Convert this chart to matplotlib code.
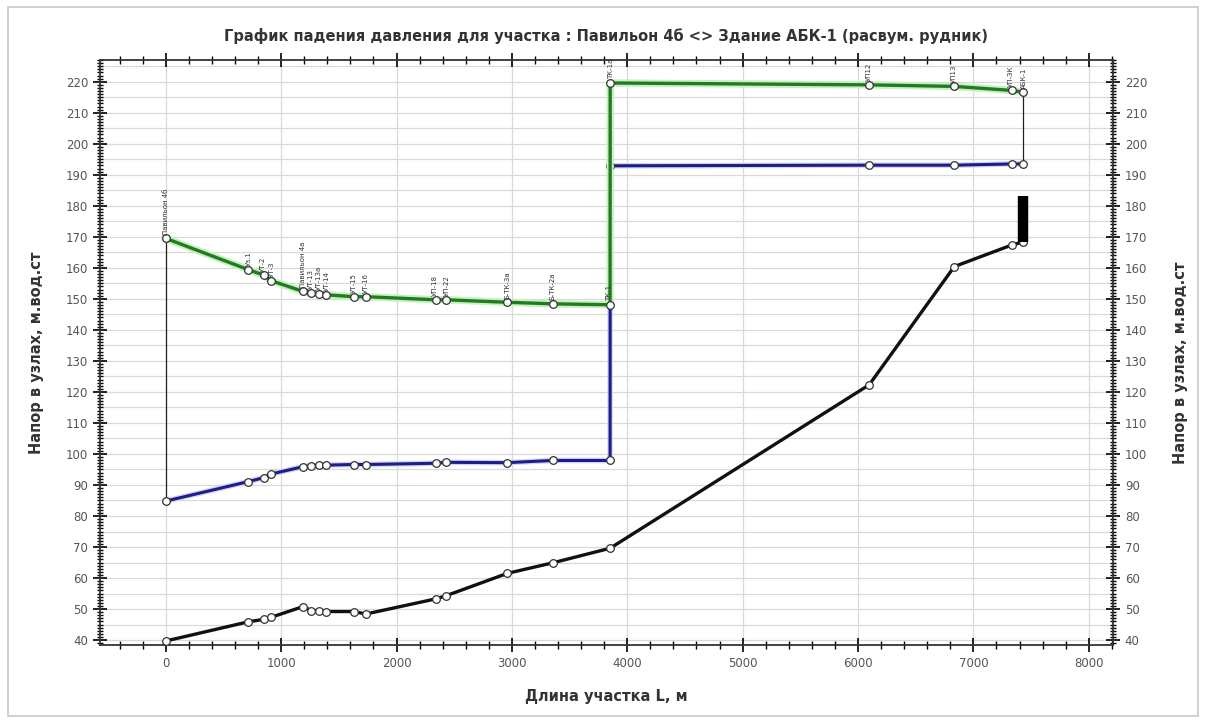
import matplotlib
matplotlib.use("Agg")
import matplotlib.pyplot as plt
from matplotlib.ticker import MultipleLocator
from matplotlib.patches import Rectangle

plt.rcParams['font.family'] = ['DejaVu Sans']

# ---- data ----
dist = [0, 717, 853, 910, 1190, 1262, 1330, 1393, 1630, 1734, 2343, 2430,
        2960, 3354, 3851, 3852, 6097, 6834, 7335, 7430]
supply = [169.5, 159.4, 157.6, 155.9, 152.4, 151.9, 151.6, 151.3, 150.7, 150.7,
          149.7, 149.7, 148.9, 148.4, 148.1, 219.6, 219.0, 218.5, 217.2, 216.6]
ret = [84.8, 91.1, 92.4, 93.5, 95.9, 96.1, 96.3, 96.4, 96.6, 96.6,
       97.0, 97.3, 97.2, 97.9, 97.9, 192.9, 193.1, 193.1, 193.5, 193.5]
ground_x = [0, 717, 853, 910, 1190, 1262, 1330, 1393, 1630, 1734, 2343, 2430,
            2960, 3354, 3851, 6097, 6834, 7335, 7430]
ground = [39.7, 45.9, 46.7, 47.3, 50.8, 49.5, 49.5, 49.2, 49.2, 48.4, 53.3, 54.3,
          61.5, 64.9, 69.6, 122.3, 160.4, 167.4, 168.3]
node_names = ["Павильон 4б", "Уз.1", "УТ-2", "УТ-3", "Павильон 4а", "УТ-13",
              "УТ-13а", "УТ-14", "УТ-15", "УТ-16", "УП-18", "УП-22",
              "Б-ТК-3а", "Б-ТК-2а", "ТК-1", "ТК-1а", "УП12", "УП13", "УП-ЗК", "АБК-1"]
consumer_x = 7430
consumer_bar = [168.3, 183.2]

fig = plt.figure(figsize=(12.06, 7.25), dpi=100)
fig.patches.append(Rectangle((0.007, 0.012), 0.986, 0.978, transform=fig.transFigure,
                             fill=False, edgecolor='#c8c8c8', linewidth=1.2))
ax = fig.add_axes([0.0829, 0.1103, 0.84, 0.8069])
ax.set_xlim(-570, 8210)
ax.set_ylim(38.4, 227)

ax.xaxis.set_major_locator(MultipleLocator(1000))
ax.xaxis.set_minor_locator(MultipleLocator(200))
ax.yaxis.set_major_locator(MultipleLocator(10))
ax.yaxis.set_minor_locator(MultipleLocator(1))
for v in range(40, 227, 5):
    ax.axhline(v, color='#d9d9d9', lw=0.9, zorder=0)
for v in range(0, 8001, 1000):
    ax.axvline(v, color='#d9d9d9', lw=0.9, zorder=0)

ax.tick_params(axis='both', which='major', direction='inout', length=10, width=1.2,
               labelsize=8.5, labelcolor='#555555', top=True, right=True,
               labelright=True, labelleft=True)
ax.tick_params(axis='y', which='minor', direction='inout', length=5, width=1.0,
               left=True, right=True)
ax.tick_params(axis='x', which='minor', direction='inout', length=6, width=1.0,
               top=True, bottom=True)
for s in ax.spines.values():
    s.set_linewidth(1.3)
    s.set_color('#333333')

mk = dict(marker='o', markersize=5.5, markerfacecolor='white',
          markeredgecolor='#333333', markeredgewidth=0.9)

# thin connectors
ax.plot([dist[0], dist[0]], [ret[0], supply[0]], color='#222222', lw=0.9, zorder=2)
ax.plot([dist[-1], dist[-1]], [ret[-1], supply[-1]], color='#222222', lw=0.9, zorder=2)

# glow
ax.plot(dist, supply, color='#c4f2bc', lw=5, zorder=2)
ax.plot(dist, ret, color='#d2d2f2', lw=4, zorder=2)

ax.plot(dist, ret, color='#1c1c8a', lw=2.2, zorder=3, **mk)
ax.plot(dist, supply, color='#c4f2bc', lw=5, zorder=3.5)
ax.plot(dist, supply, color='#247a24', lw=2.4, zorder=4, **mk)
ax.plot(ground_x, ground, color='#111111', lw=2.4, zorder=3, **mk)
ax.plot([consumer_x, consumer_x], consumer_bar, color='black', lw=7.5,
        solid_capstyle='butt', zorder=3)

x_nudge = [0, 0, -12, 12, 0, 0, 0, 0, 0, 0, -10, 10, 0, 0, -8, 8, 0, 0, -10, 10]
for xv, yv, name, dx in zip(dist, supply, node_names, x_nudge):
    ax.text(xv + dx, yv + 1.2, name, rotation=90, fontsize=5, color='#333333',
            ha='center', va='bottom', zorder=5, clip_on=True)

ax.set_title("График падения давления для участка : Павильон 4б <> Здание АБК-1 (расвум. рудник)",
             fontsize=10.5, fontweight='bold', color='#333333', pad=14)
ax.set_xlabel("Длина участка L, м", fontsize=10.5, fontweight='bold', color='#333333', labelpad=14)
ax.set_ylabel("Напор в узлах, м.вод.ст", fontsize=10.5, fontweight='bold', color='#333333', labelpad=16)
fig.text(0.979, 0.5, "Напор в узлах, м.вод.ст", rotation=90, fontsize=10.5,
         fontweight='bold', color='#333333', ha='center', va='center')

fig.savefig("out.png", dpi=100)
